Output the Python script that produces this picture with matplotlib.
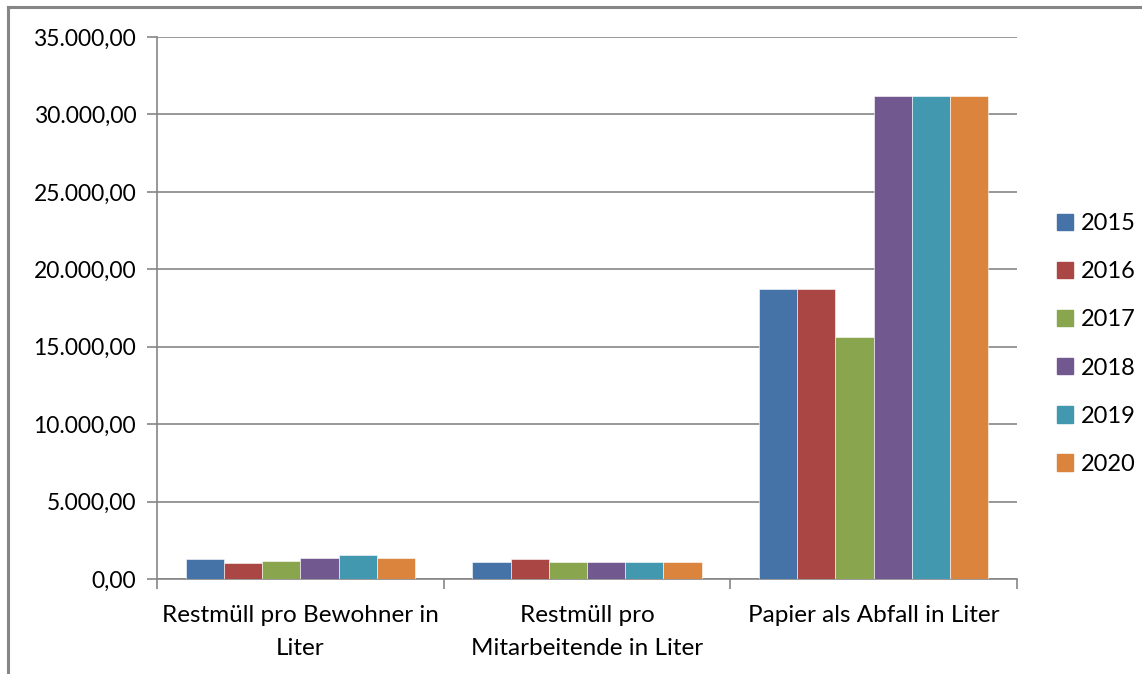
import numpy as np
import matplotlib.pyplot as plt
from matplotlib.lines import Line2D
from matplotlib.ticker import FuncFormatter

categories = ["Restmüll pro Bewohner in\nLiter",
              "Restmüll pro\nMitarbeitende in Liter",
              "Papier als Abfall in Liter"]
years = ["2015", "2016", "2017", "2018", "2019", "2020"]
values = {
    "2015": [1290, 1080, 18700],
    "2016": [1050, 1290, 18700],
    "2017": [1180, 1080, 15600],
    "2018": [1380, 1080, 31200],
    "2019": [1530, 1100, 31200],
    "2020": [1380, 1080, 31200],
}
colors = ["#4572A7", "#AA4643", "#89A54E", "#71588F", "#4198AF", "#DB843D"]

plt.rcParams['font.family'] = ['Lato', 'DejaVu Sans']
grid_col = "#868686"


def de_fmt(v, pos):
    # German number format: 35.000,00
    s = f"{v:,.2f}"
    return s.replace(",", "X").replace(".", ",").replace("X", ".")


def main():
    fig = plt.figure(figsize=(11.42, 6.74), dpi=100)
    ax = fig.add_axes([157 / 1142, 95 / 674, 860 / 1142, 542 / 674])

    n = len(years)
    gap = 1.5
    width = 1 / (n + gap)
    x = np.arange(len(categories))
    for i, (yr, c) in enumerate(zip(years, colors)):
        offs = (i - (n - 1) / 2) * width
        ax.bar(x + offs, values[yr], width, color=c, edgecolor="#ffffff",
               linewidth=0.4, label=yr, zorder=3)

    ax.set_xlim(-0.5, len(categories) - 0.5)
    ax.set_ylim(0, 35000)
    ax.set_yticks(np.arange(0, 35001, 5000))
    ax.yaxis.set_major_formatter(FuncFormatter(de_fmt))
    ax.yaxis.grid(True, color=grid_col, linewidth=1.2, zorder=0)

    # category labels centered, ticks at category boundaries
    ax.set_xticks(np.arange(-0.5, len(categories)), minor=False)
    ax.set_xticklabels([])
    ax.set_xticks(x, minor=True)
    ax.set_xticklabels(categories, minor=True, fontsize=17.5, linespacing=1.7)
    ax.tick_params(axis="x", which="minor", length=0, pad=19)
    ax.tick_params(axis="x", which="major", length=7, width=1.2,
                   color=grid_col)
    ax.tick_params(axis="y", length=7, width=1.2, color=grid_col,
                   labelsize=16.5, pad=8)

    for s in ["top", "right"]:
        ax.spines[s].set_visible(False)
    for s in ["left", "bottom"]:
        ax.spines[s].set_color(grid_col)
        ax.spines[s].set_linewidth(1.2)

    handles = [plt.Rectangle((0, 0), 1, 1, color=c) for c in colors]
    fig.legend(handles, years, loc="center left",
               bbox_to_anchor=(1040 / 1142, 1 - 344 / 674), frameon=False,
               fontsize=17, handlelength=0.68, handleheight=0.68,
               handletextpad=0.35, labelspacing=1.15, borderpad=0.2)

    # outer chart frame
    fig.add_artist(Line2D([7.5 / 1142, 7.5 / 1142], [0, 1 - 7 / 674],
                          color=grid_col, linewidth=2.2))
    fig.add_artist(Line2D([7.5 / 1142, 1], [1 - 7 / 674, 1 - 7 / 674],
                          color=grid_col, linewidth=2.2))

    fig.savefig("out.png", dpi=100)


if __name__ == "__main__":
    main()
